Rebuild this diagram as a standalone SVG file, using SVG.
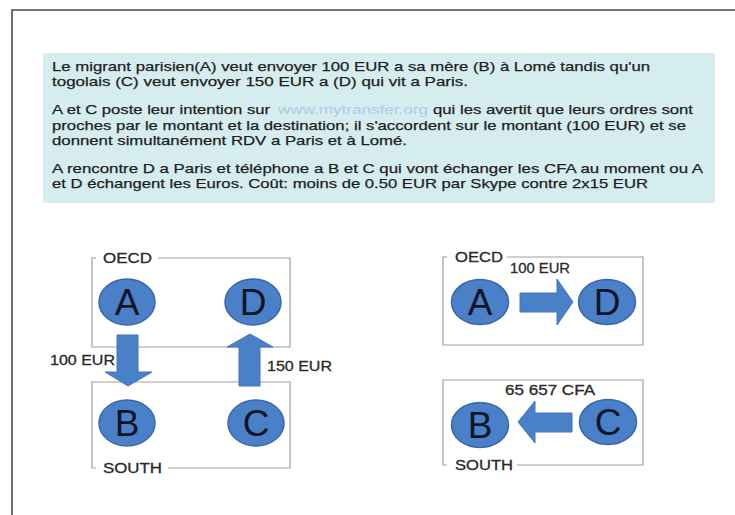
<svg xmlns="http://www.w3.org/2000/svg" width="735" height="515" viewBox="0 0 735 515">
<defs>
<style>
.t{font-family:"Liberation Sans",Arial,sans-serif;font-size:13.5px;fill:#1e1e1e;stroke:#1e1e1e;stroke-width:0.25}
.lnk{fill:#aecae8;stroke:none}
.lbl{font-family:"Liberation Sans",Arial,sans-serif;font-size:14px;fill:#2a2a2a;stroke:#2a2a2a;stroke-width:0.3}
.big{font-family:"Liberation Sans",Arial,sans-serif;font-size:37px;fill:#0e1626;text-anchor:middle}
.node ellipse{fill:#4a80c8;stroke:#3a68a6;stroke-width:1.5}
.box{fill:none;stroke:#a0a0a0;stroke-width:1.2}
.arr{fill:#4a80c8;stroke:#4276bb;stroke-width:1}
</style>
</defs>
<rect width="735" height="515" fill="#fff"/>
<path d="M12 515 V10 H735" fill="none" stroke="#4a4a4a" stroke-width="1.6"/>
<g id="textbox">
<rect x="43" y="53" width="672" height="150" fill="#d6edef"/>
<text class="t" x="52" y="70.5" textLength="598" lengthAdjust="spacingAndGlyphs">Le migrant parisien(A) veut envoyer 100 EUR a sa mère (B) à Lomé tandis qu'un</text>
<text class="t" x="52" y="85.5" textLength="416" lengthAdjust="spacingAndGlyphs">togolais (C) veut envoyer 150 EUR a (D) qui vit a Paris.</text>
<text class="t" x="52" y="114" textLength="218" lengthAdjust="spacingAndGlyphs">A et C poste leur intention sur</text>
<text class="t lnk" x="278" y="114" textLength="150" lengthAdjust="spacingAndGlyphs">www.mytransfer.org</text>
<text class="t" x="433" y="114" textLength="260" lengthAdjust="spacingAndGlyphs">qui les avertit que leurs ordres sont</text>
<text class="t" x="52" y="129.5" textLength="634" lengthAdjust="spacingAndGlyphs">proches par le montant et la destination; il s'accordent sur le montant (100 EUR) et se</text>
<text class="t" x="52" y="144.5" textLength="355" lengthAdjust="spacingAndGlyphs">donnent simultanément RDV a Paris et à Lomé.</text>
<text class="t" x="52" y="172.5" textLength="651" lengthAdjust="spacingAndGlyphs">A rencontre D a Paris et téléphone a B et C qui vont échanger les CFA au moment ou A</text>
<text class="t" x="52" y="187.5" textLength="596" lengthAdjust="spacingAndGlyphs">et D échangent les Euros. Coût: moins de 0.50 EUR par Skype contre 2x15 EUR</text>
</g>
<g id="left-oecd">
<path class="box" d="M158 258 H290 V347 H92 V258 H96"/>
<text class="lbl" x="103" y="263" textLength="49" lengthAdjust="spacingAndGlyphs">OECD</text>
</g>
<g id="left-south">
<path class="box" d="M168 468 H290 V382 H92 V468 H96"/>
<text class="lbl" x="103" y="473" textLength="59" lengthAdjust="spacingAndGlyphs">SOUTH</text>
</g>
<g id="right-oecd">
<path class="box" d="M507 257 H643 V345 H443 V257 H447"/>
<text class="lbl" x="455" y="262" textLength="48" lengthAdjust="spacingAndGlyphs">OECD</text>
</g>
<g id="right-south">
<path class="box" d="M517 465 H643 V380 H443 V465 H447"/>
<text class="lbl" x="455" y="470" textLength="58" lengthAdjust="spacingAndGlyphs">SOUTH</text>
</g>
<g id="nodeA1" class="node"><ellipse cx="127" cy="302" rx="28" ry="23"/><text class="big" x="127" y="315">A</text></g>
<g id="nodeD1" class="node"><ellipse cx="253" cy="302" rx="28" ry="23"/><text class="big" x="253" y="315">D</text></g>
<g id="nodeB1" class="node"><ellipse cx="127" cy="423" rx="28" ry="23"/><text class="big" x="127" y="436">B</text></g>
<g id="nodeC1" class="node"><ellipse cx="256" cy="423" rx="28" ry="23"/><text class="big" x="256" y="436">C</text></g>
<g id="nodeA2" class="node"><ellipse cx="480" cy="302" rx="28.5" ry="22.5"/><text class="big" x="480" y="315">A</text></g>
<g id="nodeD2" class="node"><ellipse cx="607" cy="302" rx="28.5" ry="22.5"/><text class="big" x="607" y="315">D</text></g>
<g id="nodeB2" class="node"><ellipse cx="480" cy="425" rx="28.5" ry="22.5"/><text class="big" x="480" y="438">B</text></g>
<g id="nodeC2" class="node"><ellipse cx="608" cy="422" rx="28.5" ry="22.5"/><text class="big" x="608" y="435">C</text></g>
<g id="connectors">
<polygon class="arr" points="117,335 138,335 138,372 152,372 128,386 105,372 117,372"/>
<polygon class="arr" points="239,386 260,386 260,347 273,347 250,334 227,347 239,347"/>
<polygon class="arr" points="520,293 557,293 557,279 573,302 557,325 557,312 520,312"/>
<polygon class="arr" points="572,413 535,413 535,401 518,422 535,443 535,432 572,432"/>
<text class="lbl" x="50" y="365" textLength="65" lengthAdjust="spacingAndGlyphs">100 EUR</text>
<text class="lbl" x="267" y="371" textLength="65" lengthAdjust="spacingAndGlyphs">150 EUR</text>
<text class="lbl" x="510" y="273" textLength="60" lengthAdjust="spacingAndGlyphs">100 EUR</text>
<text class="lbl" x="505" y="395" textLength="90" lengthAdjust="spacingAndGlyphs">65 657 CFA</text>
</g>
</svg>
